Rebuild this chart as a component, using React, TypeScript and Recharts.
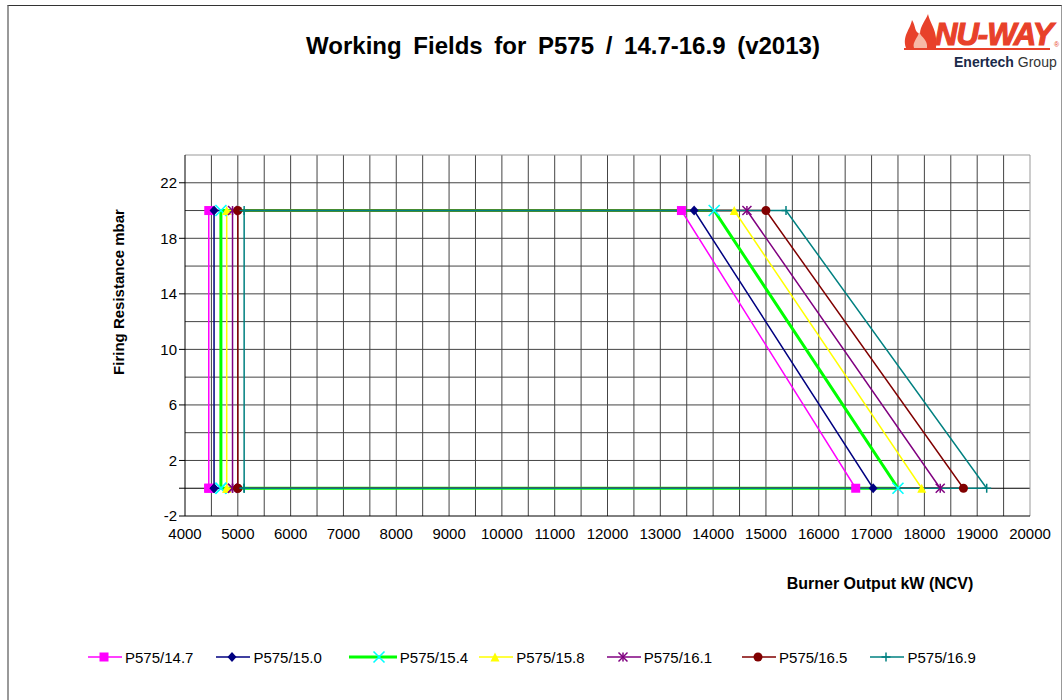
import { LineChart, Line, XAxis, YAxis, ReferenceLine } from 'recharts';

// burner models
const seriesNames = ['P575/14.7', 'P575/15.0', 'P575/15.4', 'P575/15.8', 'P575/16.1', 'P575/16.5', 'P575/16.9'];
// kW at the left edge of each field
const minOutput = [4450, 4550, 4680, 4790, 4900, 5000, 5120];
// kW where the field starts to drop (at top resistance)
const maxOutputAtTop = [13400, 13640, 14020, 14400, 14640, 15000, 15380];
// kW at zero resistance
const maxOutputAtZero = [16700, 17030, 17500, 17950, 18300, 18740, 19180];
// firing resistance, mbar
const topResistance = [20, 20, 20, 20, 20, 20, 20];
const bottomResistance = [0, 0, 0, 0, 0, 0, 0];

const xTicks = [4000, 5000, 6000, 7000, 8000, 9000, 10000, 11000, 12000, 13000, 14000, 15000, 16000, 17000, 18000, 19000, 20000];
const yTicks = [-2, 0, 2, 6, 10, 14, 18, 22];
const yHiddenLabels = [0];
const xGrid = [4500, 5000, 5500, 6000, 6500, 7000, 7500, 8000, 8500, 9000, 9500, 10000, 10500, 11000, 11500, 12000, 12500, 13000, 13500, 14000, 14500, 15000, 15500, 16000, 16500, 17000, 17500, 18000, 18500, 19000, 19500];
const yGrid = [2, 4, 6, 8, 10, 12, 14, 16, 18, 20, 22];

const lineColors = ['#ff00ff', '#000080', '#00ff00', '#ffff00', '#800080', '#800000', '#008080'];
const markerColors = ['#ff00ff', '#000080', '#00ffff', '#ffff00', '#800080', '#800000', '#008080'];
const markerShapes = ['square', 'diamond', 'x', 'triangle', 'star', 'circle', 'plus'];
const lineWidths = [1.5, 1.5, 3, 1.5, 1.5, 1.5, 1.5];

const fields = seriesNames.map((name, i) => ({
  name,
  points: [
    { x: minOutput[i], y: bottomResistance[i] },
    { x: minOutput[i], y: topResistance[i] },
    { x: maxOutputAtTop[i], y: topResistance[i] },
    { x: maxOutputAtZero[i], y: bottomResistance[i] },
    { x: minOutput[i], y: bottomResistance[i] },
  ],
}));

const font = '"Liberation Sans", Arial, sans-serif';

const Marker = ({ shape, color, cx, cy }: { shape: string; color: string; cx: number; cy: number }) => {
  if (cx == null || cy == null) return null;
  const s = 4.5;
  switch (shape) {
    case 'square':
      return <rect x={cx - s} y={cy - s} width={s * 2} height={s * 2} fill={color} />;
    case 'diamond':
      return <polygon points={`${cx},${cy - s - 0.5} ${cx + s},${cy} ${cx},${cy + s + 0.5} ${cx - s},${cy}`} fill={color} />;
    case 'triangle':
      return <polygon points={`${cx},${cy - s} ${cx + s},${cy + s} ${cx - s},${cy + s}`} fill={color} />;
    case 'circle':
      return <circle cx={cx} cy={cy} r={s} fill={color} />;
    case 'x':
      return (
        <g stroke={color} strokeWidth={1.6}>
          <line x1={cx - s - 1} y1={cy - s - 1} x2={cx + s + 1} y2={cy + s + 1} />
          <line x1={cx - s - 1} y1={cy + s + 1} x2={cx + s + 1} y2={cy - s - 1} />
        </g>
      );
    case 'star':
      return (
        <g stroke={color} strokeWidth={1.5}>
          <line x1={cx - s} y1={cy - s} x2={cx + s} y2={cy + s} />
          <line x1={cx - s} y1={cy + s} x2={cx + s} y2={cy - s} />
          <line x1={cx} y1={cy - s} x2={cx} y2={cy + s} />
        </g>
      );
    case 'plus':
      return (
        <g stroke={color} strokeWidth={1.5}>
          <line x1={cx - s} y1={cy} x2={cx + s} y2={cy} />
          <line x1={cx} y1={cy - s} x2={cx} y2={cy + s} />
        </g>
      );
    default:
      return null;
  }
};

const legendGaps = [23, 27, 11, 22, 30, 23, 0];

const LegendRow = () => (
  <div style={{ position: 'absolute', top: 648, left: 88, display: 'flex', fontSize: 15, fontFamily: font }}>
    {seriesNames.map((name, i) => (
      <div key={name} style={{ display: 'flex', alignItems: 'center', marginRight: legendGaps[i] }}>
        <svg width={i === 2 ? 48 : 34} height={18}>
          <line x1={0} y1={9} x2={i === 2 ? 48 : 34} y2={9} stroke={lineColors[i]} strokeWidth={lineWidths[i]} />
          <Marker shape={markerShapes[i]} color={markerColors[i]} cx={i === 2 ? 30 : 16} cy={9} />
        </svg>
        <span style={{ marginLeft: 3 }}>{name}</span>
      </div>
    ))}
  </div>
);

const Logo = () => (
  <div style={{ position: 'absolute', left: 900, top: 12, width: 162, height: 60, fontFamily: font }}>
    <svg width={162} height={42} style={{ position: 'absolute', left: 0, top: 0 }}>
      <path d="M6 36 C2 24 10 18 12 8 C16 14 14 20 20 22 C20 14 26 8 28 2 C30 12 38 18 36 36 Z" fill="#e8412a" />
      <path d="M14 36 C12 30 18 26 19 20 C22 26 28 28 27 36 Z" fill="#f7b9a6" />
      <text x={35} y={33} fontSize={31} fontWeight={900} fontStyle="italic" fill="#e8412a" stroke="#e8412a" strokeWidth={1.2} letterSpacing={-0.5} textLength={118}>NU-WAY</text>
      <text x={154} y={35} fontSize={7} fill="#e8412a">®</text>
      <line x1={4} y1={37} x2={150} y2={37} stroke="#e8412a" strokeWidth={2} />
    </svg>
    <div style={{ position: 'absolute', left: 54, top: 42, fontSize: 14, color: '#333', whiteSpace: 'nowrap' }}>
      <b style={{ color: '#1a2a4a' }}>Enertech</b> Group
    </div>
  </div>
);

export default function App() {
  return (
    <div style={{ position: 'absolute', left: 0, top: 0, width: 1062, height: 700, background: '#fff', fontFamily: font, overflow: 'hidden' }}>
      <div style={{ position: 'absolute', left: 7, top: 5, width: 1052, height: 720, borderTop: '1px solid #333', borderLeft: '2px solid #999', borderRight: '1px solid #999' }} />
      <div style={{ position: 'absolute', left: 213, top: 32, width: 700, textAlign: 'center', fontSize: 24, fontWeight: 'bold', whiteSpace: 'pre', wordSpacing: 5 }}>
        Working Fields for P575 / 14.7-16.9 (v2013)
      </div>
      <Logo />
      <div style={{ position: 'absolute', left: 118, top: 292, transform: 'translate(-50%, -50%) rotate(-90deg)', fontSize: 15, fontWeight: 'bold', whiteSpace: 'nowrap' }}>
        Firing Resistance mbar
      </div>
      <div style={{ position: 'absolute', left: 880, top: 584, transform: 'translate(-50%, -50%)', fontSize: 16, fontWeight: 'bold', whiteSpace: 'nowrap' }}>
        Burner Output kW (NCV)
      </div>
      <LineChart
        width={1062}
        height={700}
        margin={{ top: 155, right: 32, bottom: 154, left: 125 }}
        style={{ position: 'absolute', left: 0, top: 0, fontFamily: font }}
      >
        <XAxis
          type="number"
          dataKey="x"
          domain={[4000, 20000]}
          ticks={xTicks}
          interval={0}
          height={30}
          tickLine={false}
          axisLine={{ stroke: '#000' }}
          tick={{ fill: '#000', fontSize: 15 }}
          tickMargin={6}
          allowDataOverflow
        />
        <YAxis
          type="number"
          dataKey="y"
          domain={[-2, 24]}
          ticks={yTicks}
          interval={0}
          width={60}
          tickSize={6}
          tickLine={{ stroke: '#000' }}
          axisLine={{ stroke: '#000' }}
          tick={{ fill: '#000', fontSize: 15 }}
          tickFormatter={(v: number) => (yHiddenLabels.includes(v) ? '' : String(v))}
          allowDataOverflow
        />
        {xGrid.map((v) => (
          <ReferenceLine key={`gx${v}`} x={v} stroke="#444" strokeWidth={1} />
        ))}
        {yGrid.map((v) => (
          <ReferenceLine key={`gy${v}`} y={v} stroke="#444" strokeWidth={1} />
        ))}
        <ReferenceLine y={0} stroke="#000" strokeWidth={1.2} />
        <ReferenceLine y={24} stroke="#999" strokeWidth={1} />
        <ReferenceLine x={20000} stroke="#999" strokeWidth={1} />
        {fields.map((f, i) => (
          <Line
            key={f.name}
            data={f.points}
            dataKey="y"
            name={f.name}
            type="linear"
            stroke={lineColors[i]}
            strokeWidth={lineWidths[i]}
            isAnimationActive={false}
            dot={(p: any) => (
              <Marker key={`${f.name}-${p.index}`} shape={markerShapes[i]} color={markerColors[i]} cx={p.cx} cy={p.cy} />
            )}
            activeDot={false}
          />
        ))}
      </LineChart>
      <LegendRow />
    </div>
  );
}
